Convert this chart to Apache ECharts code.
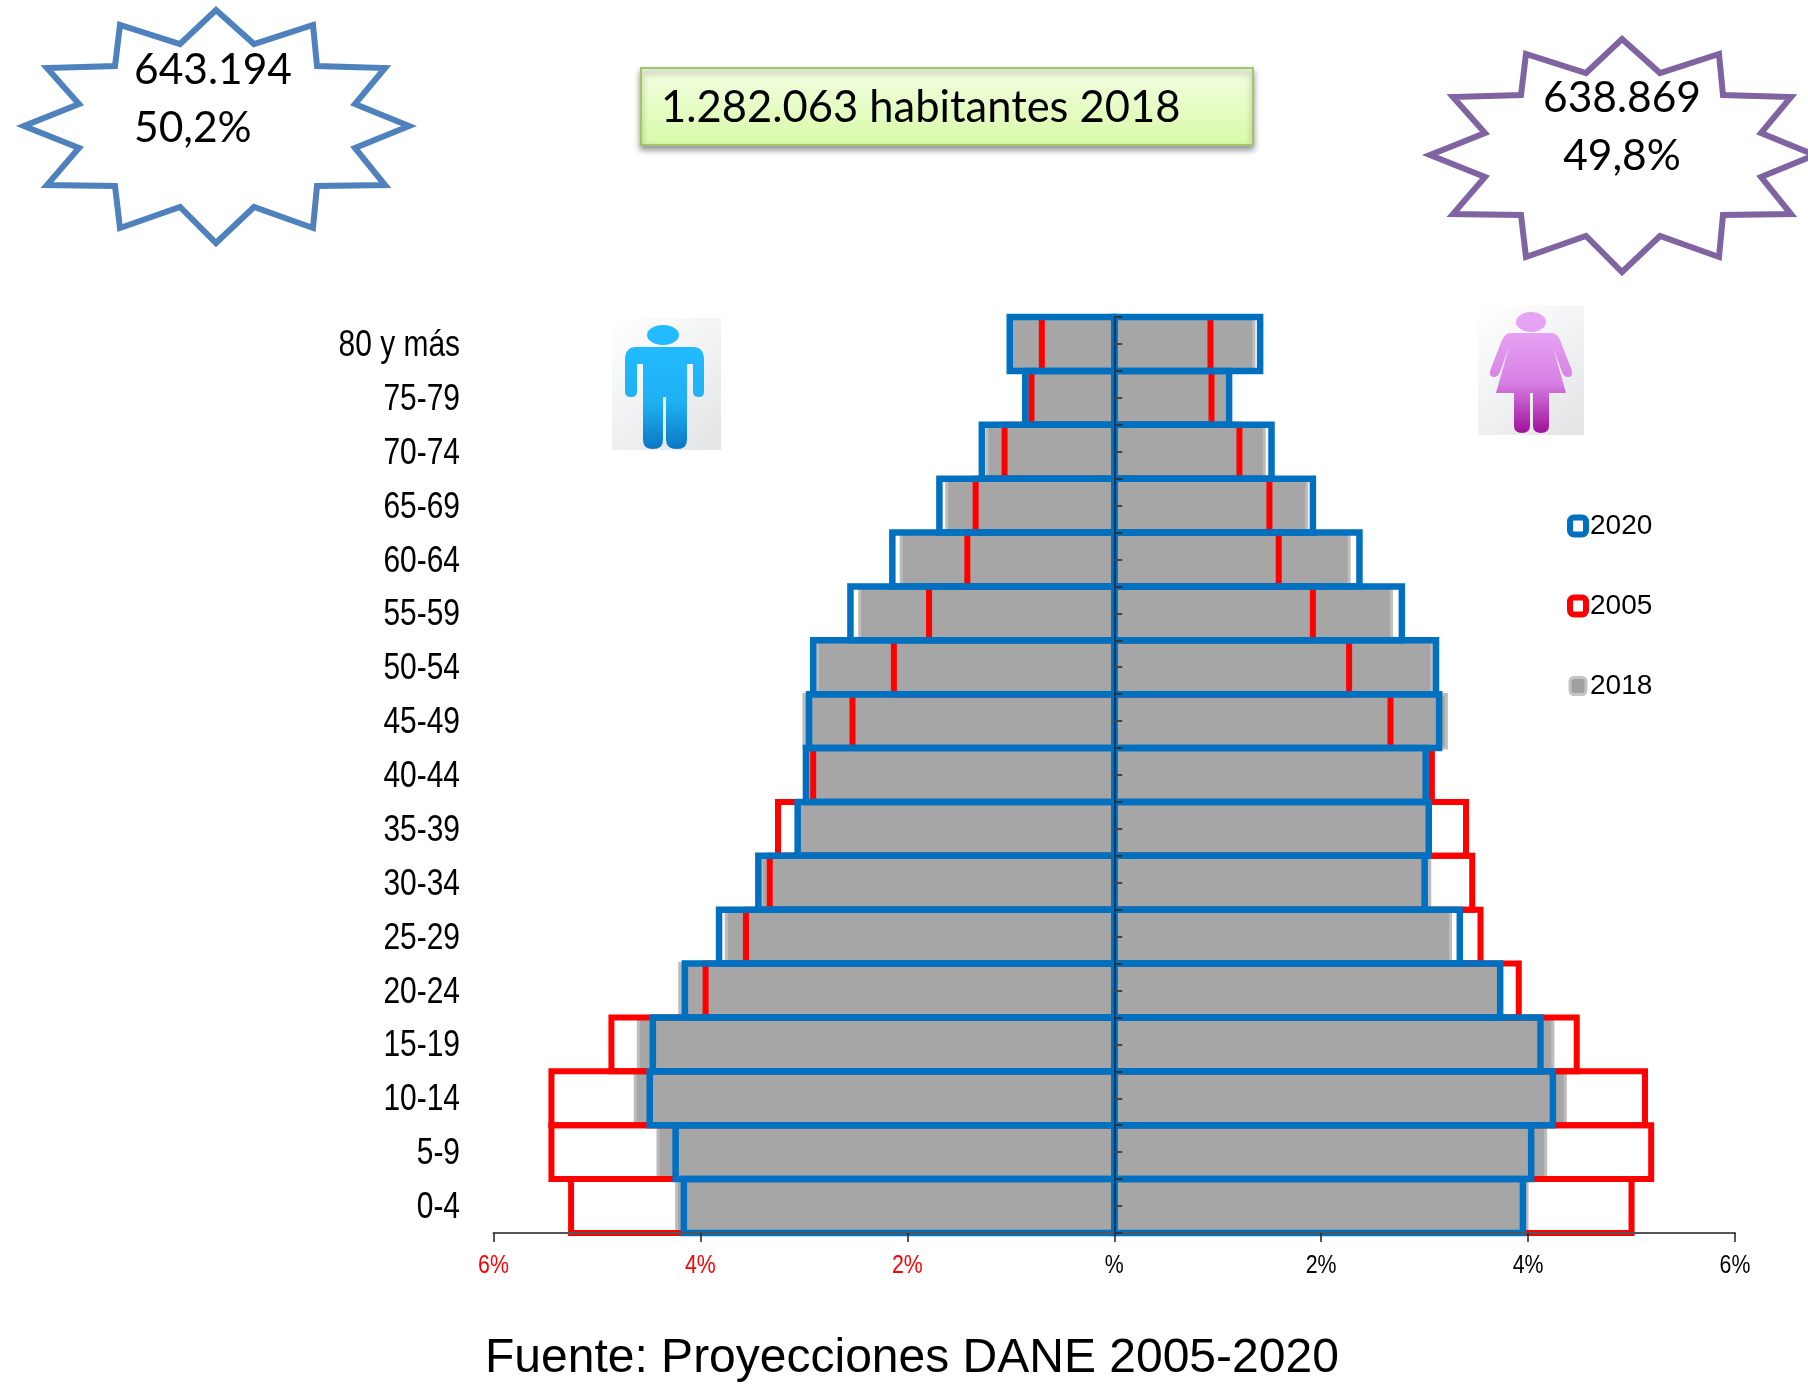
<!DOCTYPE html>
<html>
<head>
<meta charset="utf-8">
<title>Pirámide de población</title>
<script src="https://cdn.jsdelivr.net/npm/echarts@6/dist/echarts.min.js"></script>
<style>
  html, body { margin: 0; padding: 0; background: #fff; }
  #chart { width: 1808px; height: 1397px; }
</style>
</head>
<body>
<div id="chart"></div>
<script>
const ageGroups = ["0-4", "5-9", "10-14", "15-19", "20-24", "25-29", "30-34", "35-39", "40-44", "45-49", "50-54", "55-59", "60-64", "65-69", "70-74", "75-79", "80 y más"]
const xTicks = [-6, -4, -2, 0, 2, 4, 6]

// percentages, men are drawn to the left
const men2018 = [4.23, 4.41, 4.63, 4.6, 4.2, 3.75, 3.41, 3.05, 2.99, 3.0, 2.87, 2.46, 2.06, 1.62, 1.23, 0.86, 1.0]
const women2018 = [3.99, 4.17, 4.36, 4.24, 3.72, 3.25, 3.05, 3.03, 3.0, 3.21, 3.07, 2.68, 2.27, 1.86, 1.45, 1.09, 1.35]
const men2005 = [5.25, 5.44, 5.44, 4.86, 3.95, 3.56, 3.33, 3.25, 2.91, 2.53, 2.13, 1.79, 1.42, 1.34, 1.06, 0.8, 0.7]
const women2005 = [5.0, 5.19, 5.13, 4.47, 3.91, 3.54, 3.46, 3.4, 3.07, 2.67, 2.27, 1.92, 1.59, 1.5, 1.21, 0.94, 0.93]
const men2020 = [4.16, 4.24, 4.49, 4.46, 4.15, 3.82, 3.44, 3.06, 2.98, 2.95, 2.91, 2.55, 2.145, 1.69, 1.28, 0.86, 1.01]
const women2020 = [3.95, 4.03, 4.24, 4.12, 3.73, 3.34, 3.0, 3.04, 3.01, 3.14, 3.11, 2.78, 2.37, 1.92, 1.52, 1.11, 1.41]

const SANS = '"Liberation Sans", Arial, sans-serif'
const CALLOUT = 'Lato, "Open Sans", sans-serif'

const grayStyle = { fill: "#a6a6a6", stroke: "#bdbdbd", lineWidth: 3 }
const redStyle = { fill: "transparent", stroke: "#ff0000", lineWidth: 6 }
const blueStyle = { fill: "transparent", stroke: "#0070c0", lineWidth: 6.5 }

// a custom series so the outline sits centered on the value, like the original
const outlineBar = (params, api, style) => {
  const end = api.coord([api.value(0), api.value(1)])
  const zero = api.coord([0, api.value(1)])
  const band = api.size([0, 1])[1]
  return {
    type: "rect",
    shape: {
      x: Math.min(end[0], zero[0]),
      y: end[1] - band / 2,
      width: Math.abs(end[0] - zero[0]),
      height: band,
    },
    style,
  }
}

const barSeries = (name, values, style, sign) => ({
  name,
  type: "custom",
  data: values.map((v, i) => [sign * v, i]),
  encode: { x: 0, y: 1 },
  clip: false,
  renderItem: (params, api) => outlineBar(params, api, style),
})

// burst outline around its center
const burst = [[0, -116], [38, -82], [97, -101], [101, -60], [169, -58], [139, -22], [193, 0], [139, 22], [169, 59], [101, 60], [97, 102], [38, 81], [0, 117], [-36, 81], [-96, 102], [-101, 60], [-169, 59], [-137, 22], [-192, 0], [-137, -22], [-169, -58], [-101, -60], [-96, -101], [-36, -82]]

const burstShape = (cx, cy, stroke) => ({
  type: "polygon",
  shape: { points: burst.map(([x, y]) => [cx + x, cy + y]) },
  style: { fill: "#fff", stroke, lineWidth: 6, lineJoin: "miter" },
})

const bigText = (text, x, y, align, size = 42.5) => ({
  type: "text",
  x, y,
  z: 10,
  style: { text, x: 0, y: 0, align, verticalAlign: "middle", fill: "#000", font: `${size}px ${CALLOUT}` },
})

// no narrow font installed, so axis labels are squeezed sideways
const narrowText = (text, x, y, align, size, fill) => ({
  type: "text",
  x, y,
  scaleX: 0.82,
  z: 10,
  style: { text, x: 0, y: 0, align, verticalAlign: "middle", fill, font: `${size}px ${SANS}` },
})

const figureCard = (x, y, width, height) => ({
  type: "rect",
  shape: { x, y, width, height },
  style: {
    fill: { type: "linear", x: 0, y: 0, x2: 1, y2: 1, colorStops: [{ offset: 0, color: "#ffffff" }, { offset: 1, color: "#e2e4e6" }] },
  },
})

echarts.graphic.registerShape("manBody", echarts.graphic.extendPath(
  "M636 347H693Q704 347 704 360V392Q704 397 699 397Q693 397 693 392V364H687V440Q687 449 677 449Q666 449 666 440V397H663V440Q663 449 653 449Q643 449 643 440V364H637V392Q637 397 631 397Q625 397 625 392V360Q625 347 636 347Z"
))
echarts.graphic.registerShape("womanBody", echarts.graphic.extendPath(
  "M1510 333H1552Q1558 333 1562 345L1572 371Q1573 377 1568 377Q1564 377 1562 372L1553 347L1566 393H1549V426Q1549 433 1541 433Q1533 433 1533 426V393H1530V426Q1530 433 1522 433Q1514 433 1514 426V393H1496L1509 347L1500 372Q1498 377 1494 377Q1489 377 1490 371L1500 345Q1504 333 1510 333Z"
))

const chart = echarts.init(document.getElementById("chart"))
chart.setOption({
  backgroundColor: "#fff",
  animation: false,
  grid: { left: 493.5, right: 73, top: 317, bottom: 164, containLabel: false },
  legend: {
    orient: "vertical",
    left: 1562,
    top: 507,
    itemWidth: 16,
    itemHeight: 17,
    itemGap: 52,
    selectedMode: false,
    icon: "roundRect",
    textStyle: { fontFamily: SANS, fontSize: 28, color: "#000", padding: [0, 0, 0, -1] },
    data: [
      { name: "2020", itemStyle: { color: "#fff", borderColor: "#0070c0", borderWidth: 6 } },
      { name: "2005", itemStyle: { color: "#fff", borderColor: "#ff0000", borderWidth: 6 } },
      { name: "2018", itemStyle: { color: "#a0a0a0", borderColor: "#c4c4c4", borderWidth: 3 } },
    ],
  },
  xAxis: {
    type: "value",
    min: -6,
    max: 6,
    interval: 2,
    z: 6,
    splitLine: { show: false },
    axisLine: { show: true, onZero: false, lineStyle: { color: "#555", width: 2 } },
    axisTick: { show: true, length: 9, lineStyle: { color: "#222", width: 1.5 } },
    axisLabel: { show: false },
  },
  yAxis: [
    {
      type: "category",
      data: ageGroups,
      position: "left",
      axisLine: { show: false, onZero: false },
      axisTick: { show: false },
      axisLabel: { show: false },
    },
    {
      type: "category",
      data: ageGroups,
      position: "left",
      offset: -620.75,
      z: 6,
      axisLine: { show: true, onZero: false, lineStyle: { color: "#0b3a66", width: 2 } },
      axisTick: { show: true, inside: true, length: 8, alignWithLabel: false, lineStyle: { color: "#333", width: 2 } },
      axisLabel: { show: false },
    },
    {
      type: "category",
      data: ageGroups,
      position: "left",
      offset: -620.75,
      z: 6,
      axisLine: { show: false, onZero: false },
      axisTick: { show: true, inside: true, length: 8, alignWithLabel: true, lineStyle: { color: "#444", width: 2 } },
      axisLabel: { show: false },
    },
  ],
  series: [
    barSeries("2018", men2018, grayStyle, -1),
    barSeries("2018", women2018, grayStyle, 1),
    barSeries("2005", men2005, redStyle, -1),
    barSeries("2005", women2005, redStyle, 1),
    barSeries("2020", men2020, blueStyle, -1),
    barSeries("2020", women2020, blueStyle, 1),
  ],
})

const axisLabelsY = ageGroups.map((name, i) =>
  narrowText(name, 460, chart.convertToPixel({ yAxisIndex: 0 }, i) + 2, "right", 36.5, "#000"))
const axisLabelsX = xTicks.map((v) =>
  narrowText(v === 0 ? "%" : Math.abs(v) + "%", chart.convertToPixel({ xAxisIndex: 0 }, v), 1266, "center", 26, v < 0 ? "#ff0000" : "#000"))

chart.setOption({
  graphic: [
    burstShape(216, 126, "#4f81bd"),
    burstShape(1622, 155, "#8064a2"),
    bigText("643.194", 134, 70, "left"),
    bigText("50,2%", 134, 128, "left"),
    bigText("638.869", 1622, 98, "center"),
    bigText("49,8%", 1622, 156, "center"),
    {
      type: "rect",
      shape: { x: 641, y: 68, width: 612, height: 77 },
      style: {
        fill: { type: "linear", x: 0, y: 0, x2: 0, y2: 1, colorStops: [{ offset: 0, color: "#f4fde4" }, { offset: 1, color: "#d8fba6" }] },
        stroke: "#a4c46c",
        lineWidth: 2,
        shadowBlur: 6,
        shadowOffsetY: 4,
        shadowColor: "rgba(0,0,0,0.4)",
      },
    },
    bigText("1.282.063 habitantes 2018", 661, 108, "left", 43.5),
    figureCard(612, 318, 109, 132),
    { type: "ellipse", shape: { cx: 663, cy: 335, rx: 16, ry: 10 }, style: { fill: "#22bbff" } },
    {
      type: "manBody",
      style: {
        fill: { type: "linear", x: 0, y: 0, x2: 0, y2: 1, colorStops: [{ offset: 0, color: "#22bbff" }, { offset: 0.55, color: "#1fb0f2" }, { offset: 1, color: "#0a78c4" }] },
      },
    },
    figureCard(1478, 306, 106, 129),
    { type: "ellipse", shape: { cx: 1531, cy: 322, rx: 15, ry: 10 }, style: { fill: "#e6a2f4" } },
    {
      type: "womanBody",
      style: {
        fill: { type: "linear", x: 0, y: 0, x2: 0, y2: 1, colorStops: [{ offset: 0, color: "#e6a2f4" }, { offset: 0.5, color: "#d77fe4" }, { offset: 1, color: "#a0109a" }] },
      },
    },
    {
      type: "text",
      x: 485, y: 1359,
      style: { text: "Fuente: Proyecciones DANE 2005-2020", x: 0, y: 0, align: "left", verticalAlign: "middle", fill: "#000", font: `48px ${SANS}` },
    },
    ...axisLabelsY,
    ...axisLabelsX,
  ],
})
</script>
</body>
</html>
